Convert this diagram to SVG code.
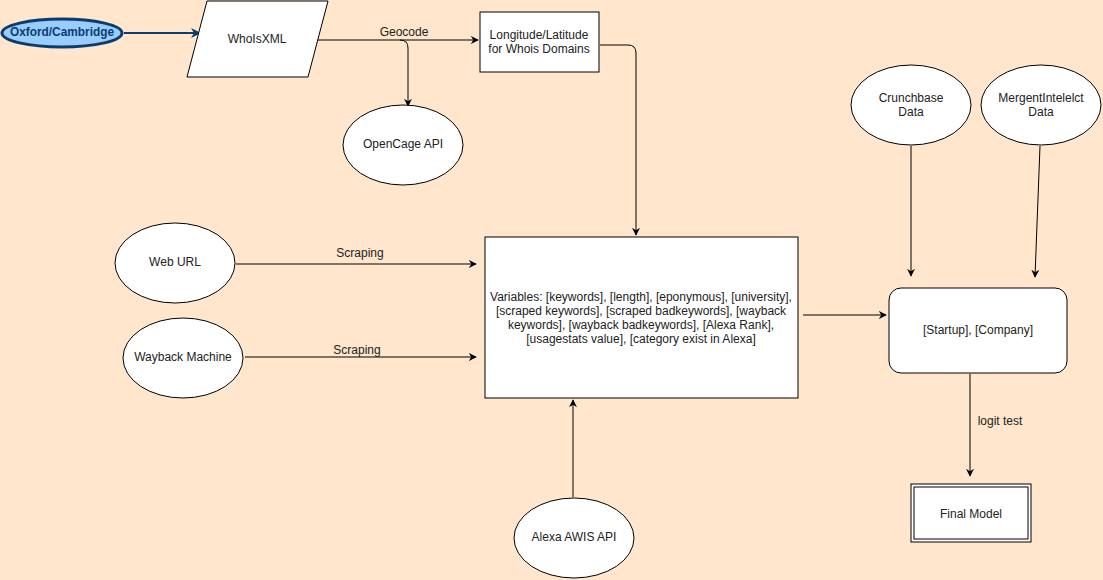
<svg xmlns="http://www.w3.org/2000/svg" width="1103" height="580" viewBox="0 0 1103 580">
<style>
text{font-family:"Liberation Sans",Arial,sans-serif;font-size:12px;fill:#222;text-anchor:middle;dominant-baseline:middle}
.n{fill:#fff;stroke:#000;stroke-width:1}
.c{fill:none;stroke:#000;stroke-width:1;marker-end:url(#a)}
</style>
<defs>
<marker id="a" viewBox="0 0 10 10" refX="9" refY="5" markerWidth="8" markerHeight="8" orient="auto" markerUnits="userSpaceOnUse"><path d="M0,0L10,5L0,10L3,5Z" fill="#000"/></marker>
<marker id="b" viewBox="0 0 10 10" refX="9" refY="5" markerWidth="10" markerHeight="10" orient="auto" markerUnits="userSpaceOnUse"><path d="M0,0L10,5L0,10L3,5Z" fill="#0b3c6e"/></marker>
</defs>
<rect width="1103" height="580" fill="#FFE6CC"/>
<g id="connectors">
<path d="M124,33H200" fill="none" stroke="#0b3c6e" stroke-width="2" marker-end="url(#b)"/>
<path class="c" d="M314,40H478"/>
<path class="c" d="M400,40Q408,40 408,48V106"/>
<path class="c" d="M600,45H628Q636,45 636,53V235"/>
<path class="c" d="M236,264H476"/>
<path class="c" d="M245,357H476"/>
<path class="c" d="M573,497V400"/>
<path class="c" d="M803,315H886"/>
<path class="c" d="M911,146V276"/>
<path class="c" d="M1040,146L1035,277"/>
<path class="c" d="M970,374V476"/>
<text x="404" y="33">Geocode</text>
<text x="360" y="254">Scraping</text>
<text x="357" y="351">Scraping</text>
<text x="1000" y="422">logit test</text>
</g>
<g id="oxford"><ellipse cx="62" cy="33" rx="60" ry="14" fill="#99CCFF" stroke="#0b3c6e" stroke-width="3"/><text x="62" y="33" textLength="104" lengthAdjust="spacingAndGlyphs" style="font-weight:bold;fill:#0b3c6e">Oxford/Cambridge</text></g>
<g id="whoisxml"><polygon class="n" points="187,77 207,1 328,1 308,77"/><text x="257" y="40">WhoIsXML</text></g>
<g id="lonlat"><rect class="n" x="480" y="12" width="119" height="60"/><text x="539" y="36">Longitude/Latitude</text><text x="539" y="50">for Whois Domains</text></g>
<g id="opencage"><ellipse class="n" cx="403" cy="145" rx="60" ry="40"/><text x="403" y="145">OpenCage API</text></g>
<g id="crunchbase"><ellipse class="n" cx="911" cy="105" rx="60" ry="40"/><text x="911" y="99">Crunchbase</text><text x="911" y="113">Data</text></g>
<g id="mergent"><ellipse class="n" cx="1041" cy="105" rx="60" ry="40"/><text x="1041" y="99">MergentIntelelct</text><text x="1041" y="113">Data</text></g>
<g id="weburl"><ellipse class="n" cx="175" cy="263" rx="60" ry="40"/><text x="175" y="263">Web URL</text></g>
<g id="wayback"><ellipse class="n" cx="183" cy="358" rx="60" ry="40"/><text x="183" y="358">Wayback Machine</text></g>
<g id="alexa"><ellipse class="n" cx="574" cy="538" rx="60" ry="40"/><text x="574" y="538">Alexa AWIS API</text></g>
<g id="variables"><rect class="n" x="485" y="237" width="313" height="161"/>
<text x="641" y="298">Variables: [keywords], [length], [eponymous], [university],</text>
<text x="641" y="312">[scraped keywords], [scraped badkeywords], [wayback</text>
<text x="641" y="326">keywords], [wayback badkeywords], [Alexa Rank],</text>
<text x="641" y="340">[usagestats value], [category exist in Alexa]</text></g>
<g id="startup"><rect class="n" x="889" y="288" width="178" height="85" rx="12"/><text x="978" y="331">[Startup], [Company]</text></g>
<g id="final"><rect class="n" x="911" y="484" width="120" height="58"/><rect class="n" x="914" y="487" width="114" height="52"/><text x="971" y="515">Final Model</text></g>
</svg>
